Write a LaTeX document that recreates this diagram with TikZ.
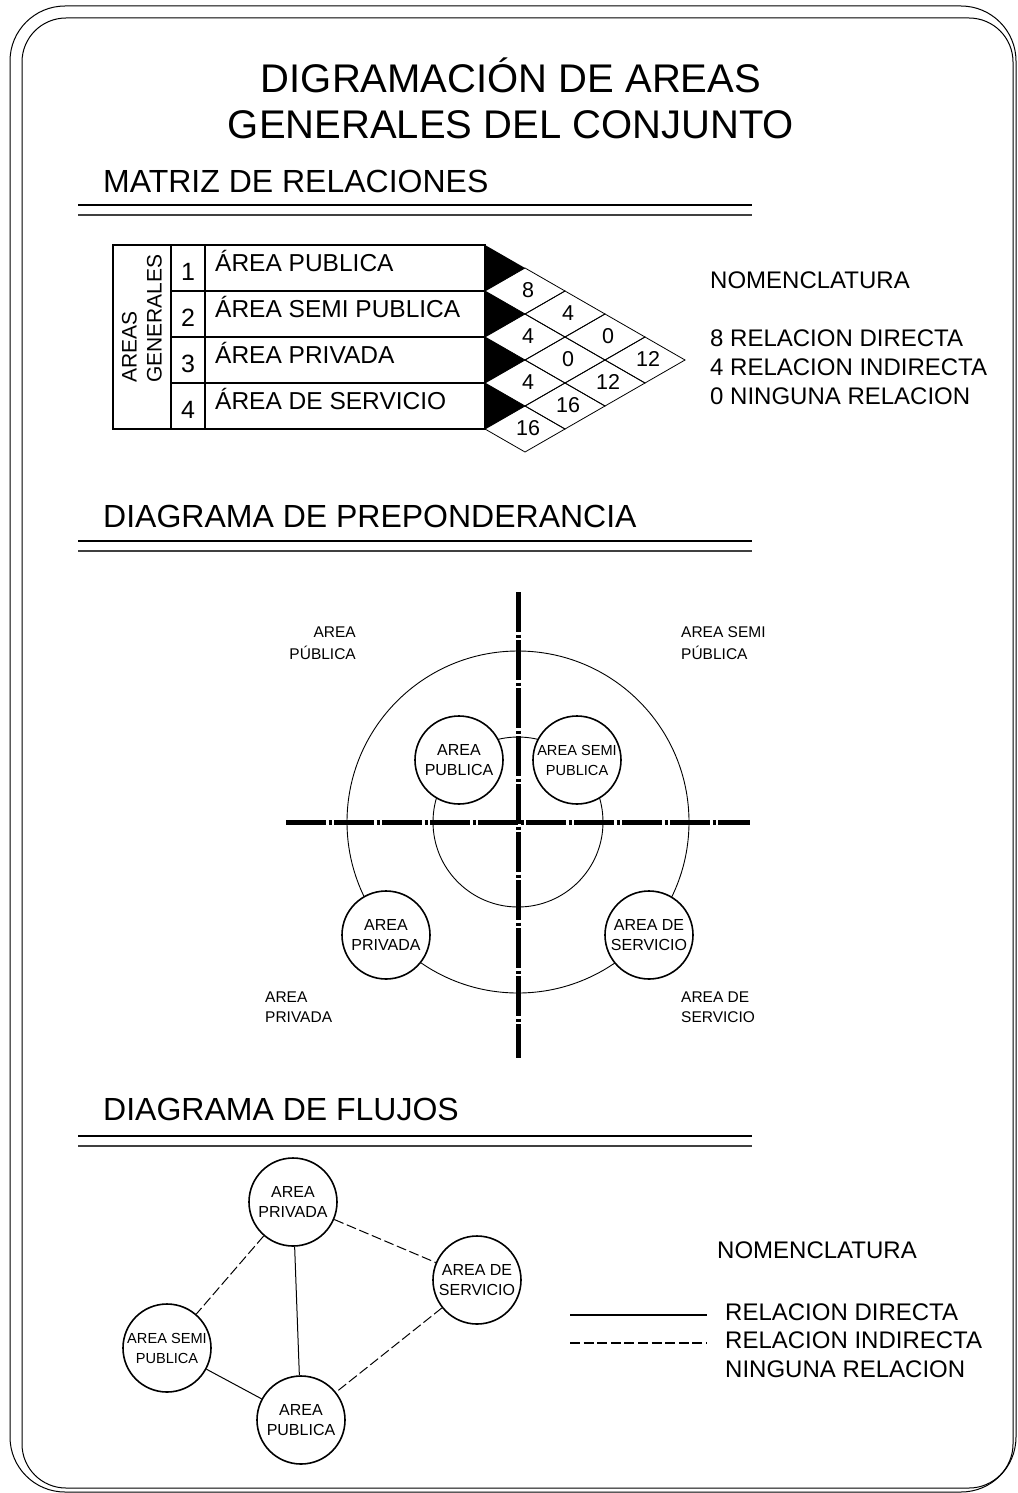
\documentclass[tikz,border=0pt]{standalone}
\usepackage{fontspec}
\setmainfont{Liberation Sans}
\usetikzlibrary{positioning}

\begin{document}
\begin{tikzpicture}[x=1pt,y=-1pt,
  every node/.style={inner sep=0pt},
  titletext/.style={font=\fontsize{40}{46}\selectfont,anchor=base},
  headtext/.style={font=\fontsize{32}{38}\selectfont,anchor=base west},
  legtext/.style={font=\fontsize{24}{29}\selectfont,anchor=base west},
  rowtext/.style={font=\fontsize{24.5}{29}\selectfont,anchor=base west},
  numtext/.style={font=\fontsize{25}{29}\selectfont,anchor=base},
  celltext/.style={font=\fontsize{21.5}{25}\selectfont},
  zonetext/.style={font=\fontsize{15.5}{20}\selectfont},
  areanode/.style={circle,draw,line width=1.6pt,fill=white,minimum size=88pt,
    align=center,font=\fontsize{16}{20}\selectfont},
  smallarea/.style={font=\fontsize{14.6}{20}\selectfont},
  ruleA/.style={line width=1.6pt},
  ruleB/.style={line width=1.1pt,black!75},
  ring/.style={line width=0.9pt},
  crossaxis/.style={line width=5pt,dash pattern=on 40pt off 2.5pt on 3pt off 2.5pt},
  direct/.style={line width=1pt},
  indirect/.style={line width=1pt,dash pattern=on 10pt off 3.6pt}]
  \useasboundingbox (0,0) rectangle (1017,1493);

  % sheet frame
  \draw[line width=1pt,rounded corners=55pt] (10,6) rectangle (1016,1492);
  \draw[line width=1pt,rounded corners=44pt] (22,18) rectangle (1013,1488);

  % titles
  \node[titletext] (title1) at (511,93) {DIGRAMACIÓN DE AREAS};
  \node[titletext] (title2) at (511,139) {GENERALES DEL CONJUNTO};
  \node[headtext] (headA) at (103,192) {MATRIZ DE RELACIONES};
  \node[headtext] (headB) at (103,527) {DIAGRAMA DE PREPONDERANCIA};
  \node[headtext] (headC) at (103,1120) {DIAGRAMA DE FLUJOS};
  \foreach \ry in {205,541,1136} {
    \draw[ruleA] (78,\ry) -- (752,\ry);
    \draw[ruleB] (78,\ry+10) -- (752,\ry+10);
  }

  % relation matrix
  \draw[line width=1.6pt] (113,245) rectangle (485,429);
  \draw[line width=1.4pt] (171,245) -- (171,429) (205,245) -- (205,429);
  \foreach \k in {1,2,3}
    \draw[line width=1.2pt] (171,245+46*\k) -- (485,245+46*\k);
  \node[font=\fontsize{21}{25}\selectfont,rotate=90,align=left,anchor=west]
    (areas) at (142,383) {AREAS\\GENERALES};
  \foreach \k/\name in {0/ÁREA PUBLICA,1/ÁREA SEMI PUBLICA,2/ÁREA PRIVADA,3/ÁREA DE SERVICIO} {
    \pgfmathsetmacro{\num}{int(\k+1)}
    \node[numtext] (num\num) at (188,280+46*\k) {\num};
    \node[rowtext] (row\num) at (215,271+46*\k) {\name};
    \fill (485,245+46*\k) -- (525,268+46*\k) -- (485,291+46*\k) -- cycle;
  }
  \foreach \i/\j/\val in {1/2/8,2/3/4,3/4/0,4/5/12,1/4/4,2/5/0,3/6/12,1/6/4,2/7/16,1/8/16} {
    \draw[line width=0.8pt] (445+40*\i,245+23*\j) -- (485+40*\i,222+23*\j)
      -- (525+40*\i,245+23*\j) -- (485+40*\i,268+23*\j) -- cycle;
    \node[celltext] (cell\i\j) at (488+40*\i,244+23*\j) {\val};
  }
  \node[legtext] (nomA) at (710,288) {NOMENCLATURA};
  \node[legtext] (nomA1) at (710,346) {8 RELACION DIRECTA};
  \node[legtext] (nomA2) at (710,375) {4 RELACION INDIRECTA};
  \node[legtext] (nomA3) at (710,404) {0 NINGUNA RELACION};

  % preponderance diagram
  \coordinate (ctr) at (518,822);
  \draw[ring] (ctr) circle[radius=171];
  \draw[ring] (ctr) circle[radius=85];
  \coordinate (vtop) at (518,592);
  \coordinate (vbot) at (518,1058);
  \coordinate (hleft) at (286,822);
  \coordinate (hright) at (750,822);
  \draw[crossaxis] (vtop) -- (vbot);
  \draw[crossaxis] (hleft) -- (hright);
  \node[areanode] (pPub) at (459,760) {AREA\\PUBLICA};
  \node[areanode,smallarea] (pSemi) at (577,760) {AREA SEMI\\PUBLICA};
  \node[areanode] (pPriv) at (386,935) {AREA\\PRIVADA};
  \node[areanode] (pServ) at (649,935) {AREA DE\\SERVICIO};
  \node[zonetext,anchor=base east] (zPubA) at (356,637) {AREA};
  \node[zonetext,anchor=base east] (zPubB) at (356,659) {PÚBLICA};
  \node[zonetext,anchor=base west] (zSemiA) at (681,637) {AREA SEMI};
  \node[zonetext,anchor=base west] (zSemiB) at (681,659) {PÚBLICA};
  \node[zonetext,anchor=base west] (zPrivA) at (265,1002) {AREA};
  \node[zonetext,anchor=base west] (zPrivB) at (265,1022) {PRIVADA};
  \node[zonetext,anchor=base west] (zServA) at (681,1002) {AREA DE};
  \node[zonetext,anchor=base west] (zServB) at (681,1022) {SERVICIO};

  % flow diagram
  \node[areanode] (fPriv) at (293,1202) {AREA\\PRIVADA};
  \node[areanode] (fServ) at (477,1280) {AREA DE\\SERVICIO};
  \node[areanode,smallarea] (fSemi) at (167,1348) {AREA SEMI\\PUBLICA};
  \node[areanode] (fPub) at (301,1420) {AREA\\PUBLICA};
  \draw[indirect] (fPriv) -- (fServ);
  \draw[indirect] (fPriv) -- (fSemi);
  \draw[direct] (fPriv) -- (fPub);
  \draw[direct] (fSemi) -- (fPub);
  \draw[indirect] (fServ) -- (fPub);

  \node[legtext] (nomB) at (717,1258) {NOMENCLATURA};
  \coordinate (solidA) at (570,1315);
  \coordinate (solidB) at (707,1315);
  \coordinate (dashA) at (570,1343);
  \coordinate (dashB) at (707,1343);
  \draw[line width=1.3pt] (solidA) -- (solidB);
  \draw[line width=1.3pt,dash pattern=on 10pt off 3.6pt] (dashA) -- (dashB);
  \node[legtext] (nomB1) at (725,1320) {RELACION DIRECTA};
  \node[legtext] (nomB2) at (725,1348) {RELACION INDIRECTA};
  \node[legtext] (nomB3) at (725,1377) {NINGUNA RELACION};
\end{tikzpicture}
\end{document}
